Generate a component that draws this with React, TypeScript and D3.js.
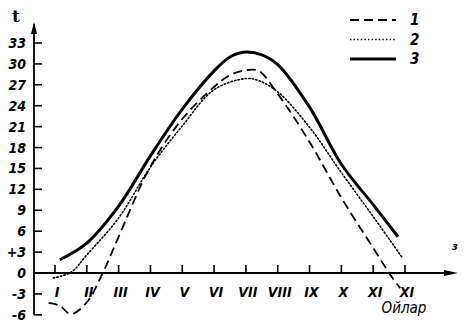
import React from "react";
import * as d3 from "d3";

// months on the x axis (the print repeats "XI" for the last one)
const monthLabels = ["I", "II", "III", "IV", "V", "VI", "VII", "VIII", "IX", "X", "XI", "XI"];
const tempTicks = [33, 30, 27, 24, 21, 18, 15, 12, 9, 6, 3, 0, -3, -6];
const tickText = ["33", "30", "27", "24", "21", "18", "15", "12", "9", "6", "+3", "0", "-3", "-6"];

// [month, t]
const curve1 = [
  [0.8, -4.3], [1.15, -4.7], [1.5, -5.9], [2, -4.2], [2.5, 0], [3, 5.2],
  [4, 15.3], [5, 22.1], [6, 26.7], [6.5, 28.4], [7, 29.1], [7.4, 29.0],
  [8, 25.7], [9, 18.8], [10, 10.8], [11, 3.6], [11.5, 0], [11.85, -2.2],
];
const curve2 = [
  [0.95, -0.7], [1.5, 0.1], [2, 2.6], [3, 7.9], [4, 15.2], [5, 21.1],
  [6, 26.3], [7, 27.9], [7.4, 27.6], [8, 26.0], [9, 20.9], [10, 14.4],
  [11, 8.1], [11.9, 2.3],
];
const curve3 = [
  [1.15, 1.9], [2, 4.3], [3, 9.6], [4, 16.8], [5, 23.5], [6, 29.0],
  [6.5, 31.0], [7, 31.7], [7.5, 31.3], [8, 29.9], [9, 23.8], [10, 15.6],
  [11, 9.8], [11.78, 5.2],
];
const legendNames = ["1", "2", "3"];

const W = 465;
const H = 322;
const font = "'Liberation Sans Narrow', 'DejaVu Sans Condensed', 'Liberation Sans', sans-serif";

export default function App() {
  const x = d3.scaleLinear().domain([1, 12]).range([55, 405]);
  const y = d3.scaleLinear().domain([0, 33]).range([273, 43]);
  const axisX = 34;

  const line = d3
    .line<number[]>()
    .x((d) => x(d[0]))
    .y((d) => y(d[1]))
    .curve(d3.curveCatmullRom.alpha(0.5));

  const series = [
    { data: curve1, width: 1.8, dash: "9,5" },
    { data: curve2, width: 1.6, dash: "1.4,2.2" },
    { data: curve3, width: 3, dash: null },
  ];

  return (
    <svg width={W} height={H} style={{ position: "absolute", left: 0, top: 0, background: "#fff" }}>
      {/* y axis */}
      <line x1={axisX} x2={axisX} y1={y(-6)} y2={24} stroke="#000" strokeWidth={1.8} />
      <path d={`M${axisX - 3},${34} L${axisX},${22} L${axisX + 3},${34} Z`} fill="#000" />
      <text x={12} y={22} fontFamily="'DejaVu Serif', serif" fontWeight="bold" fontSize={17}>t</text>
      {tempTicks.map((t, i) => (
        <g key={t}>
          <line x1={axisX} x2={axisX + 8} y1={y(t)} y2={y(t)} stroke="#000" strokeWidth={1.6} />
          <text
            x={26}
            y={y(t)}
            dy="0.36em"
            textAnchor="end"
            fontFamily={font}
            fontStyle="italic"
            fontWeight="bold"
            fontSize={14}
          >
            {tickText[i]}
          </text>
        </g>
      ))}

      {/* x axis */}
      <line x1={axisX} x2={452} y1={y(0)} y2={y(0)} stroke="#000" strokeWidth={1.8} />
      <path d={`M458,${y(0)} L444,${y(0) - 3} L444,${y(0) + 3} Z`} fill="#000" />
      {monthLabels.map((m, i) => (
        <g key={i}>
          <line x1={x(i + 1)} x2={x(i + 1)} y1={y(0)} y2={y(0) - 8} stroke="#000" strokeWidth={1.6} />
          <text
            x={x(i + 1) + 2}
            y={297}
            textAnchor="middle"
            fontFamily={font}
            fontStyle="italic"
            fontWeight="bold"
            fontSize={14}
          >
            {m}
          </text>
        </g>
      ))}
      <text x={404} y={313} textAnchor="middle" fontFamily={font} fontStyle="italic" fontSize={15}>
        Ойлар
      </text>
      <text x={455} y={250} textAnchor="middle" fontFamily={font} fontStyle="italic" fontWeight="bold" fontSize={11}>
        з
      </text>

      {/* curves */}
      {series.map((s, i) => (
        <path
          key={i}
          d={line(s.data) || ""}
          fill="none"
          stroke="#000"
          strokeWidth={s.width}
          strokeDasharray={s.dash || undefined}
          strokeLinecap={s.dash && s.width < 1.7 ? "round" : "butt"}
        />
      ))}

      {/* legend */}
      {series.map((s, i) => (
        <g key={"lg" + i}>
          <line
            x1={350}
            x2={396}
            y1={20 + i * 19.5}
            y2={20 + i * 19.5}
            stroke="#000"
            strokeWidth={s.width}
            strokeDasharray={s.dash || undefined}
          />
          <text
            x={410}
            y={20 + i * 19.5}
            dy="0.36em"
            fontFamily={font}
            fontStyle="italic"
            fontWeight="bold"
            fontSize={15}
          >
            {legendNames[i]}
          </text>
        </g>
      ))}
    </svg>
  );
}
